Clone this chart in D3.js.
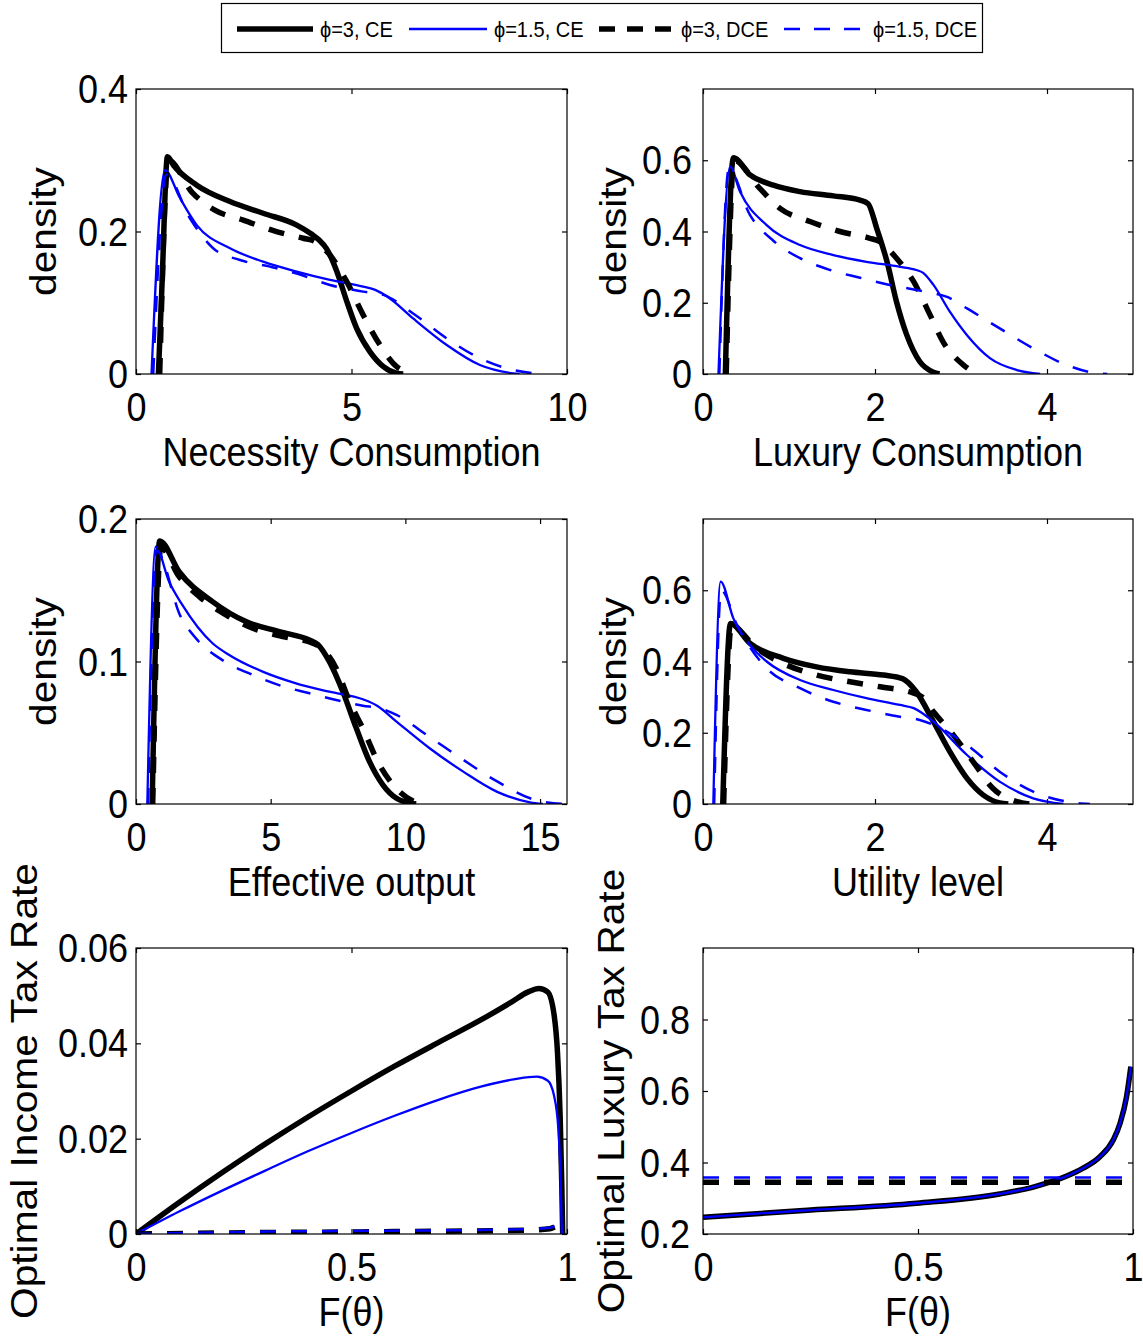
<!DOCTYPE html>
<html><head><meta charset="utf-8">
<script src="https://cdn.jsdelivr.net/npm/d3@7"></script>
<style>body{margin:0;background:#fff}svg{display:block}text{font-family:"Liberation Sans",Arial,sans-serif}</style>
</head><body>
<script>
// ---------------- DATA ----------------
const seriesNames = ["\u03D5=3, CE", "\u03D5=1.5, CE", "\u03D5=3, DCE", "\u03D5=1.5, DCE"];

// Necessity Consumption densities
const necCE3 = [[0.52,0],[0.6,0.12],[0.73,0.305],[0.87,0.293],[1.41,0.265],[2.18,0.242],[2.95,0.2256],[3.73,0.209],[4.08,0.196],[4.25,0.188],[4.42,0.176],[4.66,0.144],[4.89,0.102],[5.12,0.064],[5.43,0.031],[5.74,0.0103],[6.05,0.001],[6.2,0]];
const necCE15 = [[0.36,0],[0.67,0.286],[1.02,0.247],[1.41,0.209],[2.18,0.1765],[2.95,0.1577],[3.73,0.1437],[4.5,0.132],[5.27,0.1226],[5.55,0.118],[5.89,0.106],[6.43,0.078],[7.21,0.0407],[7.98,0.0126],[8.75,0.001],[8.9,0]];
const necDCE3 = [[0.55,0],[0.75,0.3],[1.3,0.255],[1.83,0.23],[2.49,0.216],[3.26,0.1998],[3.88,0.1905],[4.15,0.186],[4.5,0.167],[4.89,0.1296],[5.27,0.083],[5.66,0.0407],[6.05,0.0103],[6.28,0.003],[6.4,0]];
const necDCE15 = [[0.4,0],[0.7,0.28],[1.25,0.2186],[1.79,0.1765],[2.41,0.16],[3.11,0.1507],[3.73,0.141],[4.5,0.125],[5.27,0.1156],[5.74,0.111],[6.43,0.085],[7.21,0.05],[7.98,0.022],[8.75,0.0056],[9.22,0.001],[9.4,0]];

// Luxury Consumption densities
const luxCE3 = [[0.26,0],[0.353,0.607],[0.547,0.559],[0.818,0.53],[1.128,0.512],[1.515,0.5],[1.826,0.488],[1.92,0.478],[2.02,0.409],[2.14,0.315],[2.25,0.203],[2.37,0.109],[2.52,0.035],[2.68,0.005],[2.75,0]];
const luxCE15 = [[0.18,0],[0.314,0.582],[0.43,0.512],[0.74,0.418],[1.128,0.362],[1.515,0.334],[1.9,0.315],[2.29,0.301],[2.48,0.292],[2.56,0.284],[2.68,0.25],[2.87,0.175],[3.07,0.109],[3.34,0.044],[3.65,0.011],[3.92,0]];
const luxDCE3 = [[0.27,0],[0.36,0.6],[0.66,0.521],[0.895,0.465],[1.244,0.428],[1.593,0.4],[1.94,0.381],[2.05,0.372],[2.25,0.325],[2.45,0.259],[2.64,0.166],[2.79,0.091],[3.03,0.025],[3.14,0.0066],[3.2,0]];
const luxDCE15 = [[0.19,0],[0.3,0.575],[0.547,0.446],[0.818,0.374],[1.128,0.325],[1.477,0.292],[1.826,0.27],[2.17,0.25],[2.48,0.236],[2.68,0.2265],[2.83,0.217],[3.07,0.184],[3.45,0.128],[3.84,0.072],[4.23,0.025],[4.58,0.002],[4.7,0]];

// Effective output densities
const effCE3 = [[0.6,0],[0.88,0.1846],[1.6,0.163],[2.84,0.142],[4.08,0.128],[5.32,0.121],[6.44,0.1151],[6.75,0.112],[7.18,0.0999],[7.68,0.0788],[8.18,0.0531],[8.67,0.0297],[9.17,0.0133],[9.67,0.004],[10.16,0.0007],[10.4,0]];
const effCE15 = [[0.42,0],[0.73,0.1806],[1.23,0.156],[1.72,0.1397],[2.84,0.1128],[3.46,0.1046],[4.7,0.0929],[5.94,0.0847],[7.18,0.0788],[8.42,0.0735],[8.95,0.069],[9.67,0.0578],[10.9,0.0391],[12.15,0.0227],[13.39,0.0087],[14.63,0.0012],[15.1,0]];
const effDCE3 = [[0.62,0],[0.92,0.18],[1.6,0.1596],[2.35,0.1455],[3.34,0.1327],[4.33,0.1233],[5.45,0.1175],[6.56,0.1128],[6.85,0.11],[7.43,0.0953],[7.93,0.0718],[8.42,0.0531],[9.04,0.0274],[9.79,0.0086],[10.53,0.0005],[10.7,0]];
const effDCE15 = [[0.45,0],[0.75,0.178],[1.66,0.1315],[2.31,0.1144],[3.24,0.1006],[4.33,0.0906],[5.38,0.083],[6.44,0.0777],[7.43,0.073],[8.42,0.069],[9.04,0.0672],[9.67,0.0625],[10.9,0.047],[12.15,0.031],[13.39,0.016],[14.63,0.004],[15.5,0.0005],[16,0]];

// Utility level densities
const utilCE3 = [[0.23,0],[0.32,0.507],[0.547,0.451],[0.934,0.409],[1.32,0.385],[1.71,0.371],[2.1,0.362],[2.32,0.352],[2.48,0.315],[2.68,0.231],[2.87,0.147],[3.07,0.072],[3.26,0.025],[3.45,0.003],[3.55,0]];
const utilCE15 = [[0.12,0],[0.205,0.624],[0.353,0.521],[0.547,0.446],[0.74,0.4],[1.128,0.348],[1.515,0.32],[1.9,0.297],[2.29,0.278],[2.45,0.269],[2.68,0.231],[3.07,0.1375],[3.45,0.0627],[3.84,0.016],[4.19,0]];
const utilDCE3 = [[0.24,0],[0.33,0.5],[0.624,0.437],[0.973,0.39],[1.32,0.362],[1.71,0.343],[2.06,0.329],[2.45,0.311],[2.55,0.3],[2.68,0.259],[2.91,0.194],[3.14,0.119],[3.37,0.044],[3.65,0.0065],[3.8,0]];
const utilDCE15 = [[0.13,0],[0.21,0.6],[0.4,0.5],[0.74,0.381],[1.128,0.325],[1.515,0.287],[1.9,0.264],[2.29,0.245],[2.52,0.236],[2.68,0.222],[3.07,0.166],[3.45,0.0907],[3.84,0.0346],[4.23,0.0066],[4.5,0]];

// Optimal income tax rate vs F(theta)
const incCE3 = [[0,0],[0.1,0.0066],[0.2,0.0129],[0.3,0.0189],[0.4,0.0246],[0.5,0.03],[0.6,0.0352],[0.7,0.0401],[0.8,0.0449],[0.87,0.0486],[0.91,0.0508],[0.935,0.0515],[0.955,0.0508],[0.97,0.046],[0.978,0.038],[0.984,0.025],[0.988,0.01],[0.99,0]];
const incCE15 = [[0,0],[0.1,0.0047],[0.2,0.0091],[0.3,0.0133],[0.4,0.0174],[0.5,0.0212],[0.6,0.0248],[0.7,0.0281],[0.8,0.0309],[0.88,0.0325],[0.93,0.033],[0.955,0.0322],[0.97,0.029],[0.98,0.022],[0.985,0.012],[0.988,0]];
const incDCE3 = [[0,0],[0.3,0.0003],[0.6,0.0005],[0.9,0.0008],[0.96,0.0011],[0.975,0.0016],[0.985,0.0019],[0.99,0]];
const incDCE15 = [[0,0],[0.3,0.0005],[0.6,0.0007],[0.9,0.001],[0.96,0.0013],[0.975,0.0018],[0.985,0.0022],[0.99,0]];

// Optimal luxury tax rate vs F(theta)
const ltxCE3 = [[0,0.2467],[0.225,0.265],[0.497,0.286],[0.69,0.312],[0.77,0.332],[0.846,0.362],[0.884,0.384],[0.923,0.416],[0.954,0.463],[0.97,0.51],[0.985,0.584],[0.995,0.668]];
const ltxCE15 = [[0,0.2467],[0.225,0.265],[0.497,0.286],[0.69,0.312],[0.77,0.332],[0.846,0.362],[0.884,0.384],[0.923,0.416],[0.954,0.463],[0.97,0.51],[0.985,0.584],[0.995,0.668]];
const ltxDCE3 = [[0,0.345],[1,0.345]];
const ltxDCE15 = [[0,0.358],[1,0.358]];

// Axis ticks and labels
const xTicks1 = [0,5,10],      xTickLabels1 = ["0","5","10"];
const yTicks1 = [0,0.2,0.4],   yTickLabels1 = ["0","0.2","0.4"];
const xTicks2 = [0,2,4],       xTickLabels2 = ["0","2","4"];
const yTicks2 = [0,0.2,0.4,0.6], yTickLabels2 = ["0","0.2","0.4","0.6"];
const xTicks3 = [0,5,10,15],   xTickLabels3 = ["0","5","10","15"];
const yTicks3 = [0,0.1,0.2],   yTickLabels3 = ["0","0.1","0.2"];
const xTicks4 = [0,2,4],       xTickLabels4 = ["0","2","4"];
const yTicks4 = [0,0.2,0.4,0.6], yTickLabels4 = ["0","0.2","0.4","0.6"];
const xTicks5 = [0,0.5,1],     xTickLabels5 = ["0","0.5","1"];
const yTicks5 = [0,0.02,0.04,0.06], yTickLabels5 = ["0","0.02","0.04","0.06"];
const xTicks6 = [0,0.5,1],     xTickLabels6 = ["0","0.5","1"];
const yTicks6 = [0.2,0.4,0.6,0.8], yTickLabels6 = ["0.2","0.4","0.6","0.8"];

const xTitles = ["Necessity Consumption","Luxury Consumption","Effective output","Utility level","F(\u03B8)","F(\u03B8)"];
const yTitles = ["density","density","density","density","Optimal Income Tax Rate","Optimal Luxury Tax Rate"];

// ---------------- STYLE / LAYOUT ----------------
const W = 1143, H = 1338, SY = 1.13, FS = 36;
const styles = [
  {color:"#000", width:5.5, dash:null},
  {color:"#0000ff", width:2.3, dash:null},
  {color:"#000", width:5.5, dash:"16,15"},
  {color:"#0000ff", width:2.5, dash:"16,15"}
];
const cols = [{l:136, r:567}, {l:703, r:1133}];
const rows = [{t:89, b:374}, {t:519, b:804}, {t:948, b:1234}];

const panels = [
  {c:0, r:0, ylx:56,  tgap:8,  xd:[0,10], yd:[0,0.4], xt:xTicks1, xl:xTickLabels1, yt:yTicks1, yl:yTickLabels1, s:[necCE3,necCE15,necDCE3,necDCE15]},
  {c:1, r:0, ylx:626, tgap:11, xd:[0,5], yd:[0,0.8], xt:xTicks2, xl:xTickLabels2, yt:yTicks2, yl:yTickLabels2, s:[luxCE3,luxCE15,luxDCE3,luxDCE15]},
  {c:0, r:1, ylx:56,  tgap:8,  xd:[0,16], yd:[0,0.2], xt:xTicks3, xl:xTickLabels3, yt:yTicks3, yl:yTickLabels3, s:[effCE3,effCE15,effDCE3,effDCE15]},
  {c:1, r:1, ylx:626, tgap:11, xd:[0,5], yd:[0,0.8], xt:xTicks4, xl:xTickLabels4, yt:yTicks4, yl:yTickLabels4, s:[utilCE3,utilCE15,utilDCE3,utilDCE15]},
  {c:0, r:2, ylx:37,  tgap:8,  xd:[0,1], yd:[0,0.06], xt:xTicks5, xl:xTickLabels5, yt:yTicks5, yl:yTickLabels5, s:[incCE3,incCE15,incDCE3,incDCE15]},
  {c:1, r:2, ylx:624, tgap:13, xd:[0,1], yd:[0.2,1.0], xt:xTicks6, xl:xTickLabels6, yt:yTicks6, yl:yTickLabels6, s:[ltxCE3,ltxCE15,ltxDCE3,ltxDCE15]}
];

const svg = d3.select("body").append("svg").attr("width", W).attr("height", H);
svg.append("rect").attr("width", W).attr("height", H).attr("fill", "#fff");

function stretchedText(parent, x, y, str, size, anchor, rotate){
  const g = parent.append("g").attr("transform", `translate(${x},${y}) scale(1,${SY})` + (rotate ? " rotate(-90)" : ""));
  g.append("text").attr("text-anchor", anchor).attr("font-size", size).attr("fill","#000").text(str);
  return g;
}

panels.forEach((p, i) => {
  const col = cols[p.c], row = rows[p.r];
  const x = d3.scaleLinear().domain(p.xd).range([col.l, col.r]);
  const y = d3.scaleLinear().domain(p.yd).range([row.b, row.t]);
  const g = svg.append("g");
  const clipId = "clip" + i;
  svg.append("clipPath").attr("id", clipId).append("rect")
    .attr("x", col.l).attr("y", row.t).attr("width", col.r - col.l).attr("height", row.b - row.t);
  const line = d3.line().x(d => x(d[0])).y(d => y(d[1])).curve(d3.curveMonotoneX);
  const lg = g.append("g").attr("clip-path", `url(#${clipId})`);
  p.s.forEach((data, k) => {
    const st = styles[k];
    lg.append("path").datum(data).attr("d", line)
      .attr("fill", "none").attr("stroke", st.color).attr("stroke-width", st.width)
      .attr("stroke-dasharray", st.dash).attr("stroke-linejoin","round");
  });
  // box
  g.append("rect").attr("x", col.l).attr("y", row.t).attr("width", col.r - col.l).attr("height", row.b - row.t)
    .attr("fill", "none").attr("stroke", "#000").attr("stroke-width", 1.2);
  // axes
  const axB = g.append("g").attr("transform", `translate(0,${row.b})`)
    .call(d3.axisBottom(x).tickValues(p.xt).tickFormat((d, j) => p.xl[j]).tickSizeInner(-5).tickSizeOuter(0));
  const axT = g.append("g").attr("transform", `translate(0,${row.t})`)
    .call(d3.axisTop(x).tickValues(p.xt).tickFormat("").tickSizeInner(-5).tickSizeOuter(0));
  const axL = g.append("g").attr("transform", `translate(${col.l},0)`)
    .call(d3.axisLeft(y).tickValues(p.yt).tickFormat((d, j) => p.yl[j]).tickSizeInner(-5).tickSizeOuter(0));
  const axR = g.append("g").attr("transform", `translate(${col.r},0)`)
    .call(d3.axisRight(y).tickValues(p.yt).tickFormat("").tickSizeInner(-5).tickSizeOuter(0));
  [axB, axT, axL, axR].forEach(a => {
    a.select(".domain").remove();
    a.attr("font-size", FS).attr("font-family", null);
    a.selectAll(".tick line").attr("stroke", "#000").attr("stroke-width", 1.2);
  });
  axB.selectAll(".tick text").attr("y", null).attr("dy", null)
    .attr("transform", `translate(0,47) scale(1,${SY})`).attr("fill","#000");
  axL.selectAll(".tick text").attr("x", null).attr("dy", null).attr("text-anchor","end")
    .attr("transform", `translate(${-p.tgap},13.5) scale(1,${SY})`).attr("fill","#000");
  // titles
  stretchedText(g, (col.l + col.r) / 2, row.b + 92, xTitles[i], FS, "middle", false);
  stretchedText(g, p.ylx, (row.t + row.b) / 2, yTitles[i], FS, "middle", true);
});

// ---------------- LEGEND ----------------
const leg = svg.append("g");
leg.append("rect").attr("x", 221.5).attr("y", 3.5).attr("width", 761).attr("height", 49)
  .attr("fill", "#fff").attr("stroke", "#000").attr("stroke-width", 1.2);
const legItems = [
  {x1:237, x2:313, tx:320, dash:null},
  {x1:409, x2:487, tx:494, dash:null},
  {x1:599, x2:671, tx:681, dash:"16,12"},
  {x1:784, x2:860, tx:873, dash:"16,14"}
];
legItems.forEach((it, k) => {
  const st = styles[k];
  leg.append("line").attr("x1", it.x1).attr("x2", it.x2).attr("y1", 29).attr("y2", 29)
    .attr("stroke", st.color).attr("stroke-width", k % 2 === 0 ? 5.5 : 2.5).attr("stroke-dasharray", it.dash);
  stretchedText(leg, it.tx, 37, seriesNames[k], 20, "start", false);
});
</script>
</body></html>
